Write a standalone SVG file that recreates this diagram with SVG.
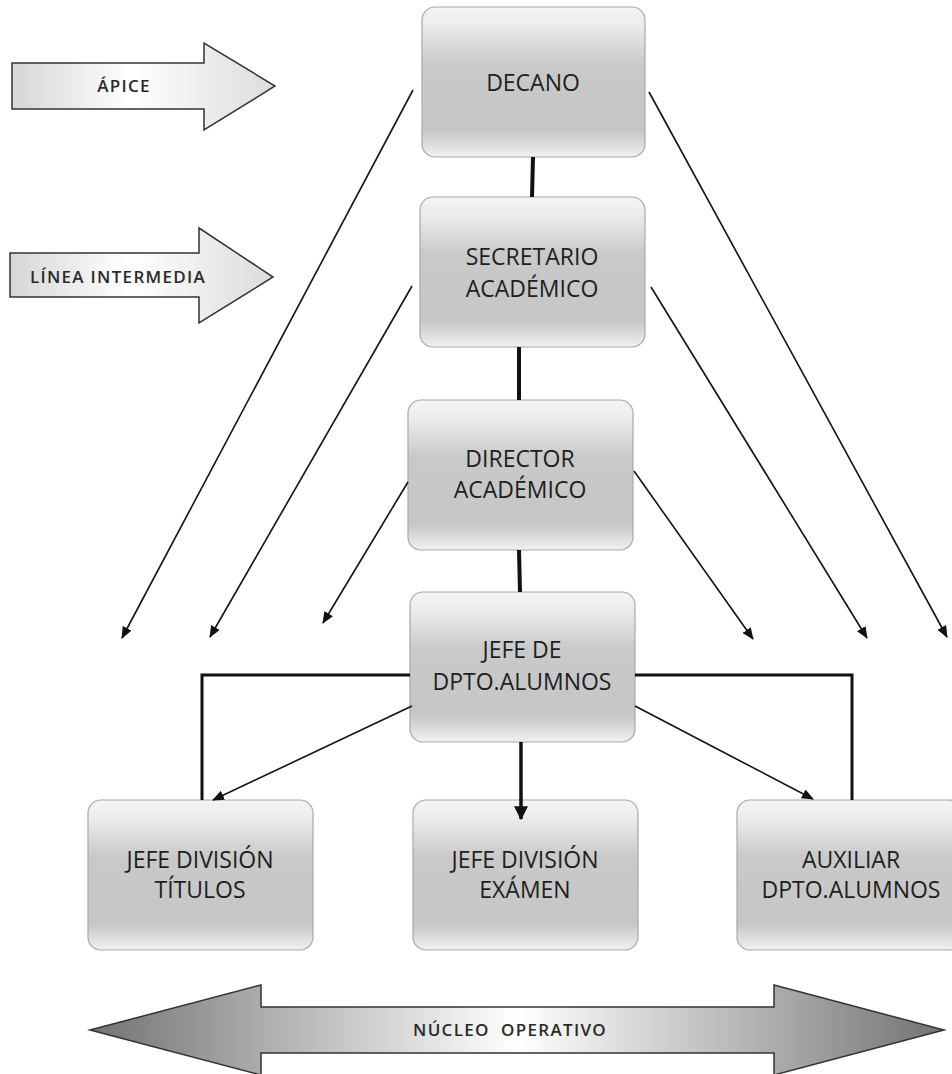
<svg xmlns="http://www.w3.org/2000/svg" width="952" height="1074" viewBox="0 0 952 1074">
<defs>
<style>
.box{stroke:#a8a8a8;stroke-width:1.2;fill:url(#gBox)}
.t{font-family:"Open Sans","Noto Sans",sans-serif;font-size:23px;fill:#1e1e1e;text-anchor:middle}
.s{font-family:"Open Sans","Noto Sans",sans-serif;font-size:17px;font-weight:600;fill:#2a2a2a;text-anchor:middle;letter-spacing:1.3px}
.thick{stroke:#111;stroke-width:4;fill:none}
.br{stroke:#111;stroke-width:3;fill:none}
.thin{stroke:#111;stroke-width:1.6;fill:none;marker-end:url(#ah)}
</style>
<linearGradient id="gBox" x1="0" y1="0" x2="0" y2="1">
<stop offset="0" stop-color="#f4f4f4"/>
<stop offset="0.12" stop-color="#ececec"/>
<stop offset="0.38" stop-color="#c9c9c9"/>
<stop offset="0.82" stop-color="#c6c6c6"/>
<stop offset="0.95" stop-color="#e4e4e4"/>
<stop offset="1" stop-color="#f2f2f2"/>
</linearGradient>
<linearGradient id="gArr" x1="0" y1="0" x2="1" y2="0">
<stop offset="0" stop-color="#d6d6d6"/>
<stop offset="0.45" stop-color="#ffffff"/>
<stop offset="1" stop-color="#dcdcdc"/>
</linearGradient>
<linearGradient id="gDbl" x1="0" y1="0" x2="1" y2="0">
<stop offset="0" stop-color="#727272"/>
<stop offset="0.2" stop-color="#acacac"/>
<stop offset="0.5" stop-color="#ffffff"/>
<stop offset="0.8" stop-color="#acacac"/>
<stop offset="1" stop-color="#727272"/>
</linearGradient>
<marker id="ah" viewBox="0 0 12 10" refX="11" refY="5" markerWidth="12" markerHeight="10" markerUnits="userSpaceOnUse" orient="auto">
<path d="M0,0 L12,5 L0,10 z" fill="#111"/>
</marker>
<marker id="ahB" viewBox="0 0 12 12" refX="11" refY="6" markerWidth="14" markerHeight="14" markerUnits="userSpaceOnUse" orient="auto">
<path d="M0,0 L12,6 L0,12 z" fill="#111"/>
</marker>
</defs>

<g id="apice">
<path d="M12,63 L204,63 L204,43 L275,86 L204,130 L204,109 L12,109 Z" fill="url(#gArr)" stroke="#333" stroke-width="1.5"/>
<text class="s" x="124" y="92">ÁPICE</text>
</g>
<g id="linea-intermedia">
<path d="M10,253 L199,253 L199,228 L273,277 L199,323 L199,297 L10,297 Z" fill="url(#gArr)" stroke="#333" stroke-width="1.5"/>
<text class="s" x="118" y="283">LÍNEA INTERMEDIA</text>
</g>

<g id="decano">
<rect class="box" x="422" y="7" width="223" height="150" rx="13"/>
<text class="t" x="533" y="91">DECANO</text>
</g>
<g id="secretario">
<rect class="box" x="420" y="197" width="225" height="150" rx="13"/>
<text class="t" x="532" y="265">SECRETARIO</text>
<text class="t" x="532" y="297">ACADÉMICO</text>
</g>
<g id="director">
<rect class="box" x="408" y="400" width="225" height="150" rx="13"/>
<text class="t" x="520" y="467">DIRECTOR</text>
<text class="t" x="520" y="498">ACADÉMICO</text>
</g>
<g id="jefe-dpto">
<rect class="box" x="410" y="592" width="225" height="150" rx="13"/>
<text class="t" x="522" y="658">JEFE DE</text>
<text class="t" x="522" y="690">DPTO.ALUMNOS</text>
</g>
<g id="jefe-titulos">
<rect class="box" x="88" y="800" width="225" height="150" rx="13"/>
<text class="t" x="200" y="868">JEFE DIVISIÓN</text>
<text class="t" x="200" y="898">TÍTULOS</text>
</g>
<g id="jefe-examen">
<rect class="box" x="413" y="800" width="225" height="150" rx="13"/>
<text class="t" x="525" y="868">JEFE DIVISIÓN</text>
<text class="t" x="525" y="898">EXÁMEN</text>
</g>
<g id="auxiliar">
<rect class="box" x="737" y="800" width="225" height="150" rx="13"/>
<text class="t" x="851" y="868">AUXILIAR</text>
<text class="t" x="851" y="898">DPTO.ALUMNOS</text>
</g>

<g id="connectors">
<line class="thick" x1="533" y1="157" x2="532" y2="197"/>
<line class="thick" x1="519" y1="347" x2="519" y2="400"/>
<line class="thick" x1="519" y1="550" x2="520" y2="592"/>
<path class="br" d="M410,675 L202,675 L202,800"/>
<path class="br" d="M635,675 L852,675 L852,800"/>
<line x1="521" y1="742" x2="521" y2="819" stroke="#111" stroke-width="3.5" marker-end="url(#ahB)"/>
<line class="thin" x1="412" y1="706" x2="213" y2="800"/>
<line class="thin" x1="635" y1="706" x2="813" y2="799"/>
<line class="thin" x1="413" y1="90" x2="122" y2="638"/>
<line class="thin" x1="649" y1="92" x2="947" y2="637"/>
<line class="thin" x1="412" y1="286" x2="210" y2="637"/>
<line class="thin" x1="651" y1="287" x2="867" y2="638"/>
<line class="thin" x1="408" y1="482" x2="323" y2="623"/>
<line class="thin" x1="634" y1="471" x2="753" y2="639"/>
</g>

<g id="nucleo-operativo">
<path d="M90,1030 L261,985 L261,1007 L774,1007 L774,985 L944,1030 L774,1075 L774,1053 L261,1053 L261,1075 Z" fill="url(#gDbl)" stroke="#333" stroke-width="1.5"/>
<text class="s" x="510" y="1036" xml:space="preserve">NÚCLEO  OPERATIVO</text>
</g>
</svg>
